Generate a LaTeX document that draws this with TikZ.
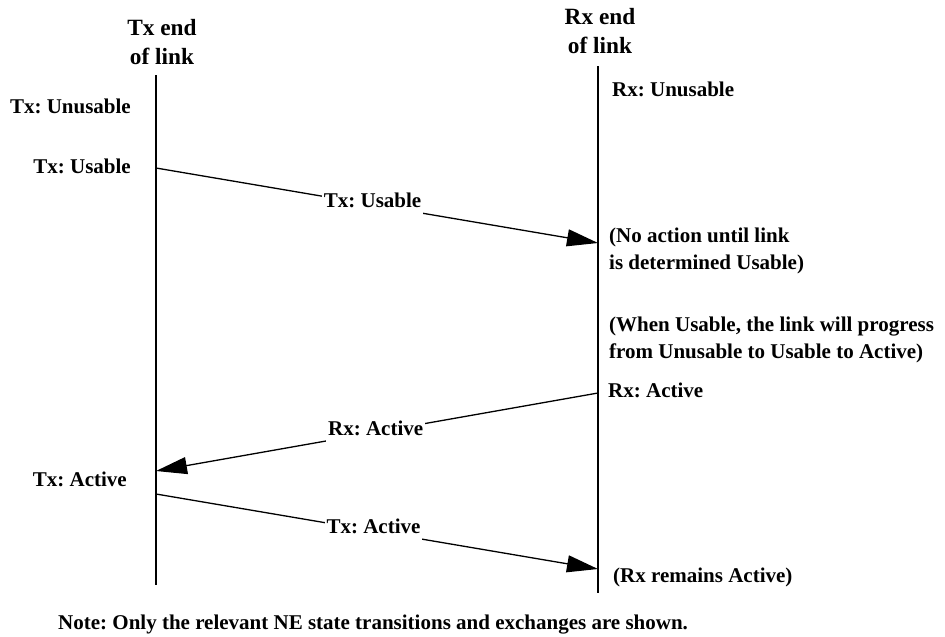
\documentclass[tikz,border=0pt]{standalone}
\usepackage{fontspec}
\setmainfont{Liberation Serif}
\usetikzlibrary{arrows.meta}
\frenchspacing
\begin{document}
\begin{tikzpicture}[x=1pt,y=-1pt,
  lifeline/.style={line width=1.3pt},
  msg/.style={line width=1.3pt,-{Triangle[length=31pt,width=17pt]}},
  lbl/.style={font=\fontsize{21}{27}\selectfont\bfseries,inner sep=0pt},
  onlbl/.style={lbl,fill=white,inner xsep=2pt,inner ysep=1pt,text height=13pt,text depth=7pt},
  ttl/.style={font=\fontsize{23.3}{28.5}\selectfont\bfseries,inner sep=0pt,align=center}]
\useasboundingbox (0,0) rectangle (945,637);
% lifelines
\coordinate (txtop) at (156,75);
\coordinate (txbot) at (156,585);
\coordinate (rxtop) at (598,66);
\coordinate (rxbot) at (598,593);
\draw[lifeline] (txtop) -- (txbot);
\draw[lifeline] (rxtop) -- (rxbot);
% titles
\node[ttl,anchor=base] (txttl) at (162,64) {Tx end\\of link};
\node[ttl,anchor=base] (rxttl) at (600,53) {Rx end\\of link};
% state labels
\node[lbl,anchor=base east] (txunus) at (131,113) {Tx: Unusable};
\node[lbl,anchor=base east] (txus) at (131,173) {Tx: Usable};
\node[lbl,anchor=base west] (rxunus) at (612,96) {Rx: Unusable};
\node[lbl,anchor=base west,align=left] (noact) at (609,269) {(No action until link\\is determined Usable)};
\node[lbl,anchor=base west,align=left] (when) at (609,358) {(When Usable, the link will progress\\from Unusable to Usable to Active)};
\node[lbl,anchor=base west] (rxact) at (608,397) {Rx: Active};
\node[lbl,anchor=base east] (txact) at (127,486) {Tx: Active};
\node[lbl,anchor=base west] (rxrem) at (613,582) {(Rx remains Active)};
\node[lbl,anchor=base west] (note) at (58,629) {Note: Only the relevant NE state transitions and exchanges are shown.};
% message endpoints
\coordinate (a1s) at (156,168);
\coordinate (a1e) at (598,243);
\coordinate (a2s) at (598,393);
\coordinate (a2e) at (156,471);
\coordinate (a3s) at (156,494);
\coordinate (a3e) at (598,569);
% messages
\draw[msg] (a1s) -- node[onlbl,pos=0.49] (m1) {Tx: Usable} (a1e);
\draw[msg] (a2s) -- node[onlbl,pos=0.503] (m2) {Rx: Active} (a2e);
\draw[msg] (a3s) -- node[onlbl,pos=0.492] (m3) {Tx: Active} (a3e);
\end{tikzpicture}
\end{document}
